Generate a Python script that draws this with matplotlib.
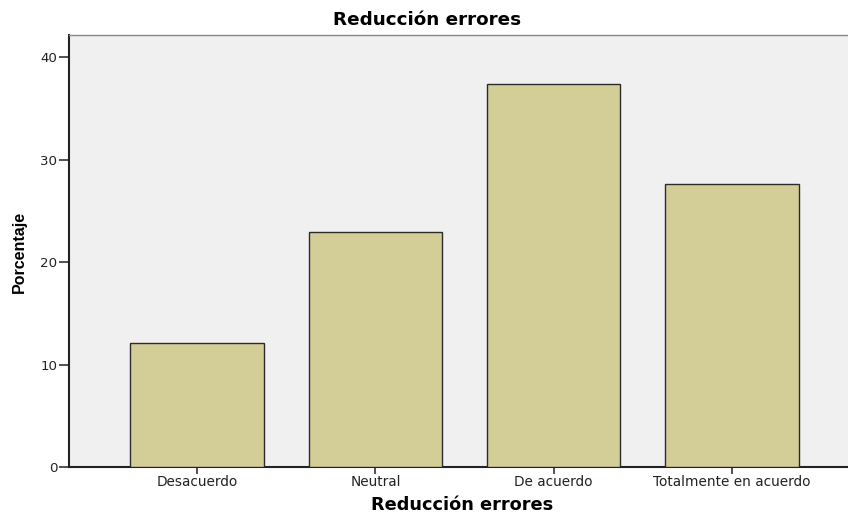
import matplotlib
matplotlib.use("Agg")
import matplotlib.pyplot as plt

categories = ["Desacuerdo", "Neutral", "De acuerdo", "Totalmente en acuerdo"]
values = [12.1, 22.9, 37.4, 27.6]
yticks = [0, 10, 20, 30, 40]

plt.rcParams['font.family'] = ['DejaVu Sans']

fig = plt.figure(figsize=(8.48, 5.14), dpi=100)
ax = fig.add_axes([69/848, 47/514, 1 - 69/848 + 0.01, (467-35)/514])
ax.set_facecolor('#F0F0F0')

x = list(range(len(categories)))
ax.bar(x, values, width=0.75, color='#D3CE97', edgecolor='#2b2b2b', linewidth=1.0, zorder=3)

ax.set_xlim(-0.72, 3.70)
ax.set_ylim(0, 42.15)
ax.set_yticks(yticks)
ax.set_yticklabels([str(t) for t in yticks], fontsize=9.6, color='#222222')
ax.set_xticks(x)
ax.set_xticklabels(categories, fontsize=9.8, color='#222222')
ax.tick_params(axis='x', direction='out', length=5, width=1.2, color='#333333', pad=1)
ax.tick_params(axis='y', direction='out', length=7, width=1.2, color='#333333', pad=1.5)

for s in ['left', 'bottom']:
    ax.spines[s].set_color('#222222')
    ax.spines[s].set_linewidth(1.5)
ax.spines['top'].set_color('#888888')
ax.spines['top'].set_linewidth(1.0)
ax.spines['right'].set_visible(False)

fig.text(427/848, 1 - 20/514, "Reducción errores", ha='center', va='center',
         fontsize=13.2, fontweight='bold')
fig.text(462/848, 1 - 505/514, "Reducción errores", ha='center', va='center',
         fontsize=12.8, fontweight='bold')
fig.text(19/848, 1 - 252/514, "Porcentaje", ha='center', va='center', rotation=90,
         fontsize=11.5, fontweight='bold',
         family=['Liberation Sans', 'DejaVu Sans'])

fig.savefig("out.png", dpi=100)
